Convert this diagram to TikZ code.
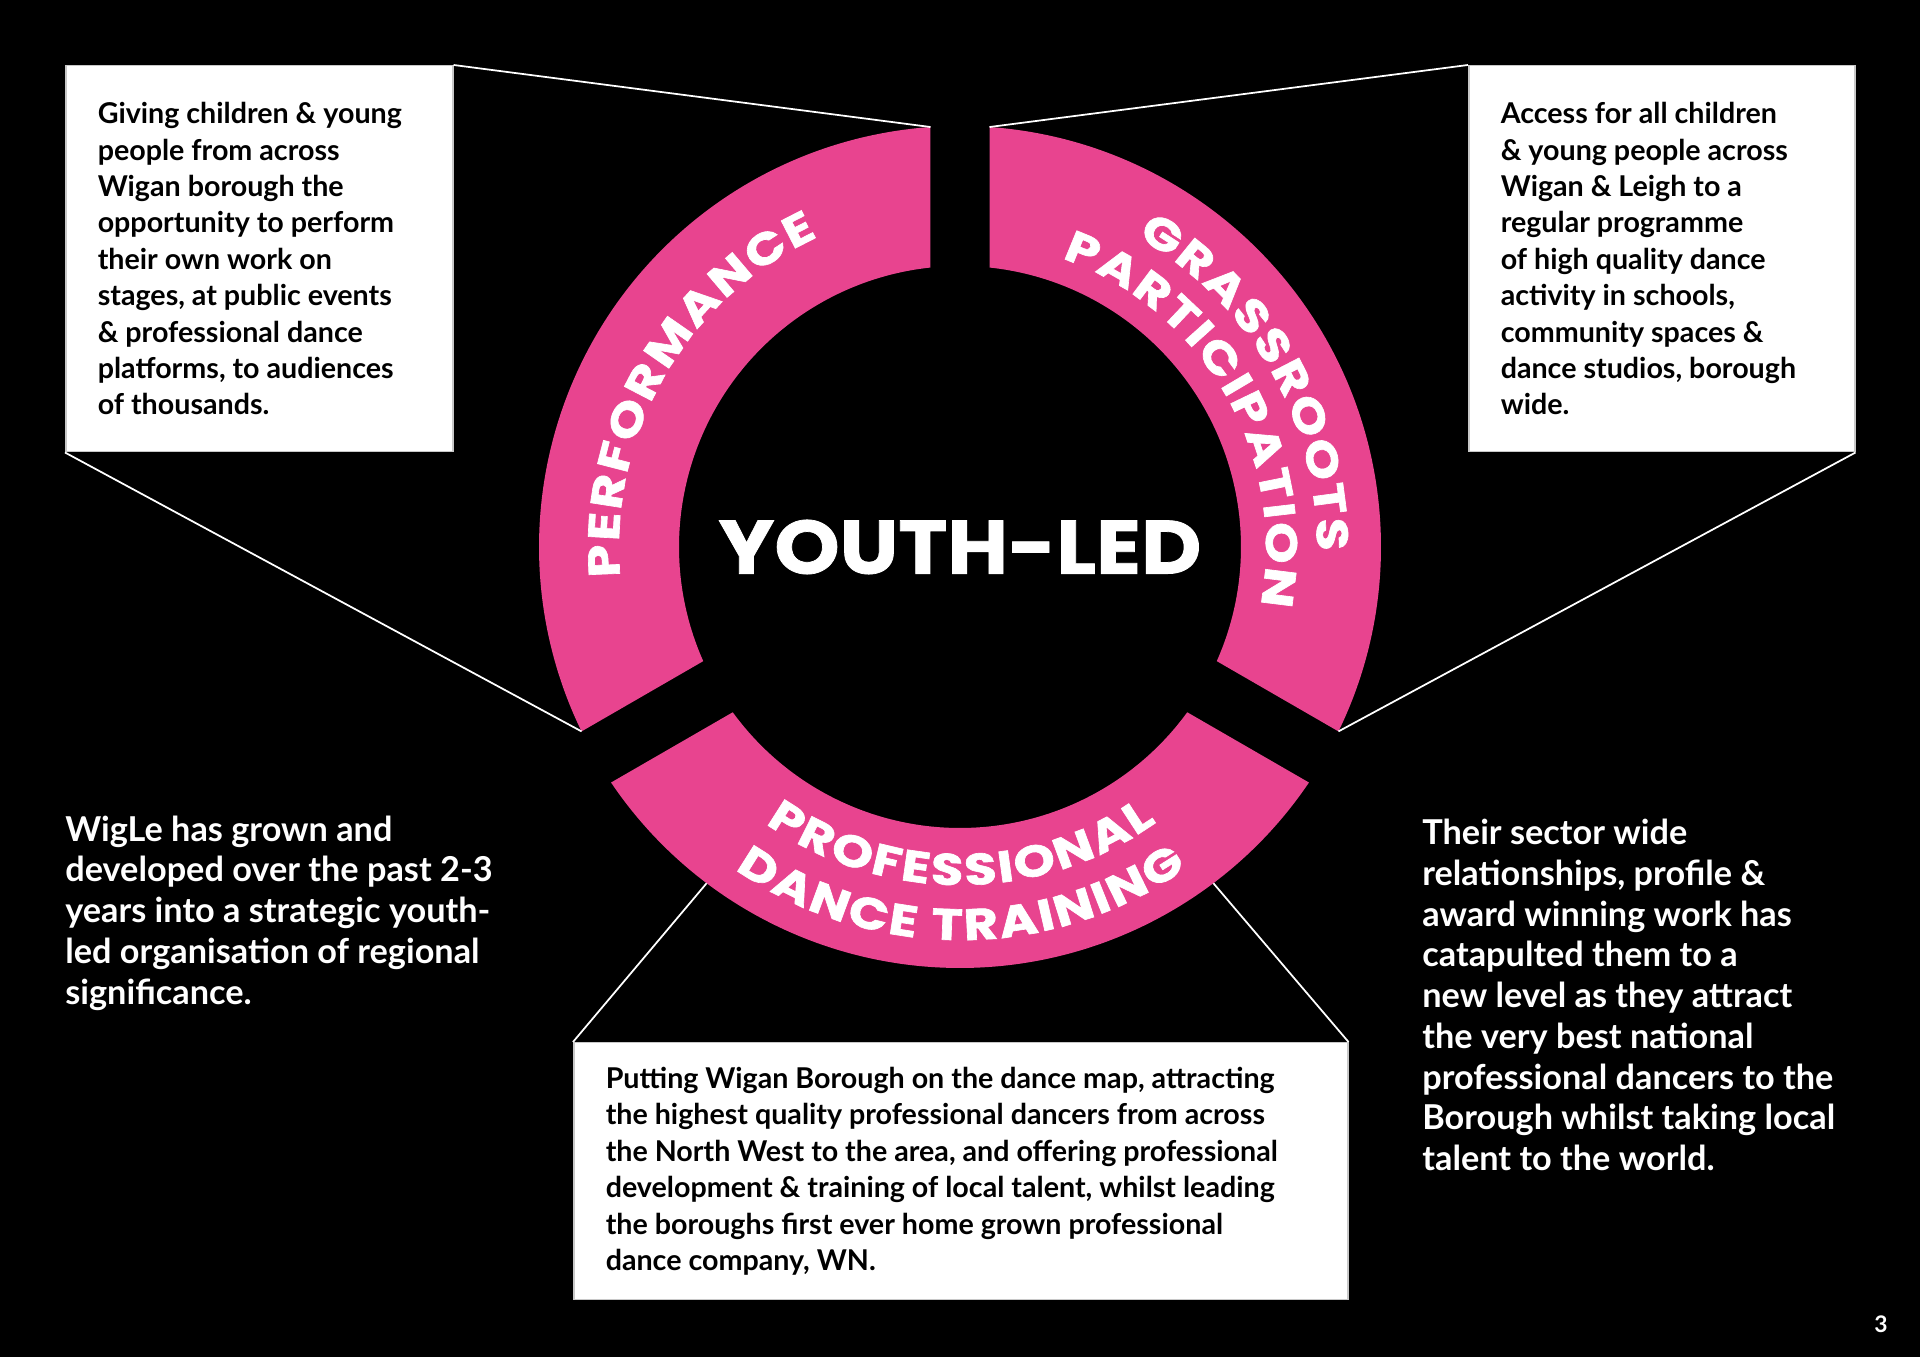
\documentclass[tikz,border=0pt]{standalone}
\usepackage{fontspec}
\setmainfont{Lato}
\newfontfamily\headfont{Poppins}[FakeStretch=1.1,FakeBold=1]
\newfontfamily\ringfont{Poppins}[FakeStretch=1.2,FakeBold=1.5]
\usepackage{xcolor}
\definecolor{cPink}{HTML}{E8448F}
\definecolor{cEdge}{HTML}{C8C8C8}
\usetikzlibrary{positioning,decorations.text}
\newcommand\boxfont{\bfseries\fontsize{16.3}{20.7}\selectfont}
\newcommand\sidefont{\bfseries\fontsize{19.5}{23.2}\selectfont}
\newcommand\arcfont{\ringfont\bfseries\fontsize{25}{28}\selectfont\kern1.3pt}
\newcommand\hubfont{\headfont\bfseries\fontsize{43}{46}\selectfont}
\tikzset{
  node-box/.style={fill=white,draw=cEdge,line width=0.3mm,anchor=north west,
    inner xsep=6.4mm,inner ysep=0mm,align=flush left,text=black,font=\boxfont},
  node-note/.style={anchor=west,inner sep=0mm,align=left,text=white,font=\sidefont},
  node-hub/.style={text=white,font=\hubfont},
  link-line/.style={draw=white,line width=0.35mm},
  arc-text/.style={decorate,decoration={text along path,
    text={|\arcfont|#1},text align=center,text color=white}},
}

\begin{document}
\begin{tikzpicture}[x=0.2mm,y=0.2mm]
  \fill[black] (0,0) rectangle (1920,1357);
  \useasboundingbox (0,0) rectangle (1920,1357);
  % ring of three segments
  \begin{scope}[shift={(960,810)}]
    \foreach \m in {150,30,270} {
      \fill[cPink] ({\m-55.98}:421) arc[start angle={\m-55.98},end angle={\m+55.98},radius=421]
        -- ({\m+53.97}:281) arc[start angle={\m+53.97},end angle={\m-53.97},radius=281] -- cycle;
    }
    \coordinate (perf-top) at (94.02:421);
    \coordinate (perf-low) at (205.98:421);
    \coordinate (grass-top) at (85.98:421);
    \coordinate (grass-low) at (-25.98:421);
    \coordinate (prof-left) at (233:421);
    \coordinate (prof-right) at (307:421);
    \node[node-hub] (hub) at (0,0) {YOUTH-LED};
    \path[arc-text={PERFORMANCE}] (210:341) arc[start angle=210,end angle=90,radius=341];
    \path[arc-text={GRASSROOTS}] (90:357) arc[start angle=90,end angle=-30,radius=357];
    \path[arc-text={PARTICIPATION}] (90:306) arc[start angle=90,end angle=-30,radius=306];
    \path[arc-text={PROFESSIONAL}] (210:338) arc[start angle=210,end angle=330,radius=338];
    \path[arc-text={DANCE TRAINING}] (210:393) arc[start angle=210,end angle=330,radius=393];
  \end{scope}
  % boxes
  \node[node-box,text width=64.6mm,minimum height=77.2mm] (box-perf) at (65,1292)
    {Giving children \& young\\people from across\\Wigan borough the\\opportunity to perform\\their own work on\\stages, at public events\\\& professional dance\\platforms, to audiences\\of thousands.};
  \node[node-box,text width=64.4mm,minimum height=77.2mm] (box-grass) at (1468,1292)
    {Access for all children\\\& young people across\\Wigan \& Leigh to a\\regular programme\\of high quality dance\\activity in schools,\\community spaces \&\\dance studios, borough\\wide.};
  \node[node-box,text width=142mm,minimum height=51.4mm] (box-prof) at (573,315)
    {Putting Wigan Borough on the dance map, attracting\\the highest quality professional dancers from across\\the North West to the area, and offering professional\\development \& training of local talent, whilst leading\\the boroughs first ever home grown professional\\dance company, WN.};
  \draw[link-line] (box-perf.north east) -- (perf-top);
  \draw[link-line] (box-perf.south west) -- (perf-low);
  \draw[link-line] (box-grass.north west) -- (grass-top);
  \draw[link-line] (box-grass.south east) -- (grass-low);
  \draw[link-line] (box-prof.north west) -- (prof-left);
  \draw[link-line] (box-prof.north east) -- (prof-right);
  % side notes
  \node[node-note] (note-left) at (65,444)
    {WigLe has grown and\\developed over the past 2-3\\years into a strategic youth-\\led organisation of regional\\significance.};
  \node[node-note] (note-right) at (1422,362)
    {Their sector wide\\relationships, profile \&\\award winning work has\\catapulted them to a\\new level as they attract\\the very best national\\professional dancers to the\\Borough whilst taking local\\talent to the world.};
  \node[text=white,font=\bfseries\fontsize{13}{15}\selectfont] (page) at (1881,33) {3};
\end{tikzpicture}
\end{document}
